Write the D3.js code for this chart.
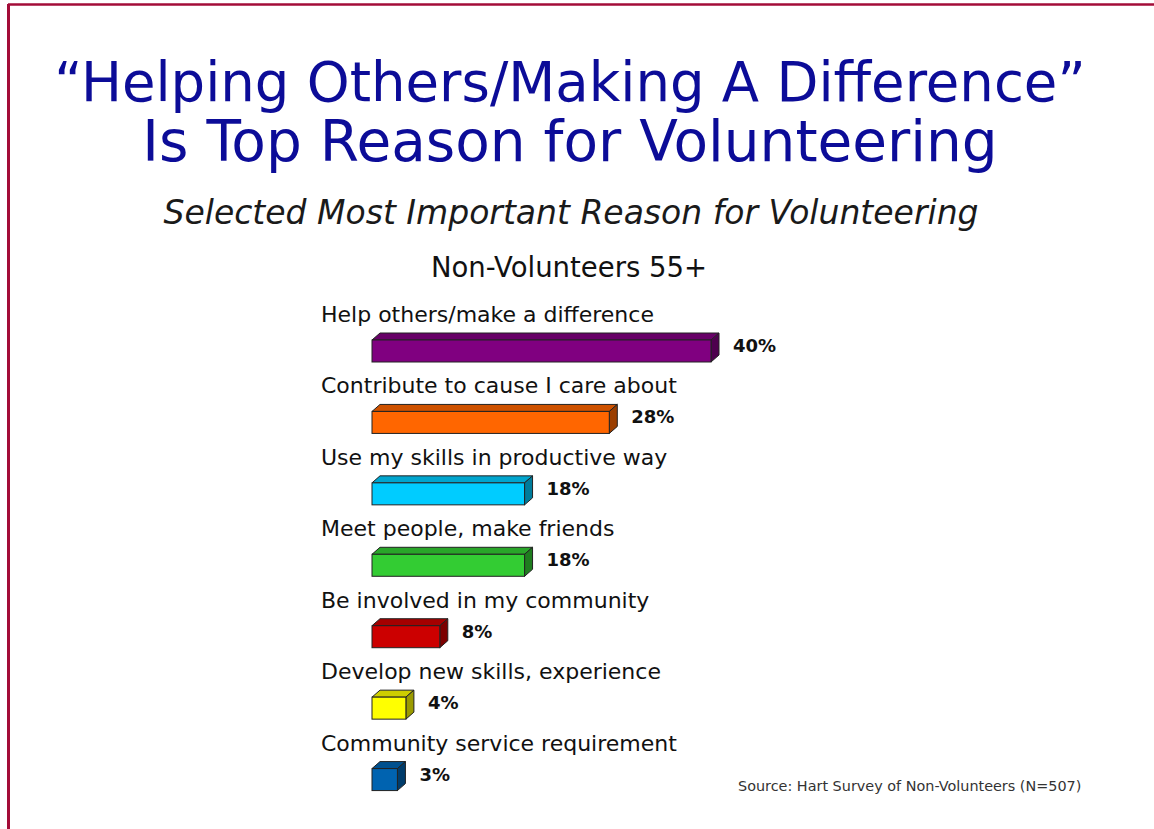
<!DOCTYPE html>
<html>
<head>
<meta charset="utf-8">
<script src="https://cdn.jsdelivr.net/npm/d3@7/dist/d3.min.js"></script>
<style>
  html, body { margin: 0; padding: 0; background: #fff; }
  svg { display: block; }
</style>
</head>
<body>
<svg id="chart" width="1154" height="829"></svg>
<script>
// Reasons for volunteering, share of non-volunteers 55+ (%)
const categories = [
  "Help others/make a difference",
  "Contribute to cause I care about",
  "Use my skills in productive way",
  "Meet people, make friends",
  "Be involved in my community",
  "Develop new skills, experience",
  "Community service requirement"
];
const values = [40, 28, 18, 18, 8, 4, 3];
const colors = ["#800080", "#ff6600", "#00ccff", "#33cc33", "#cc0000", "#ffff00", "#0063b0"];

const titleLines = ["\u201CHelping Others/Making A Difference\u201D", "Is Top Reason for Volunteering"];
const subtitle = "Selected Most Important Reason for Volunteering";
const groupLabel = "Non-Volunteers 55+";
const sourceNote = "Source: Hart Survey of Non-Volunteers (N=507)";

const W = 1154, H = 829;
const svg = d3.select("#chart");
const font = "'DejaVu Sans', Verdana, sans-serif";

// slide frame
svg.append("line").attr("x1", 8).attr("x2", W).attr("y1", 4.5).attr("y2", 4.5)
  .attr("stroke", "#a30c38").attr("stroke-width", 2.5);
svg.append("line").attr("x1", 8.5).attr("x2", 8.5).attr("y1", 4).attr("y2", H)
  .attr("stroke", "#a30c38").attr("stroke-width", 3);

// headline
svg.selectAll("text.title").data(titleLines).join("text")
  .attr("class", "title")
  .attr("x", 570).attr("y", (d, i) => 101 + i * 60)
  .attr("text-anchor", "middle")
  .attr("font-family", font).attr("font-size", (d, i) => i === 0 ? 54.5 : 56.5)
  .attr("fill", "#0c0c98")
  .text(d => d);

svg.append("text")
  .attr("x", 571).attr("y", 224)
  .attr("text-anchor", "middle")
  .attr("font-family", font).attr("font-style", "italic").attr("font-size", 33)
  .attr("fill", "#1a1a1a")
  .text(subtitle);

svg.append("text")
  .attr("x", 569).attr("y", 277)
  .attr("text-anchor", "middle")
  .attr("font-family", font).attr("font-size", 27.5)
  .attr("fill", "#111")
  .text(groupLabel);

// scales
const x = d3.scaleLinear().domain([0, 40]).range([372, 711]);
const band = d3.scaleBand().domain(categories).range([303, 803]).paddingInner(0).paddingOuter(0);
const depthX = 8, depthY = 7, barH = 22;

const rows = svg.selectAll("g.row").data(categories.map((c, i) => ({ c, v: values[i], col: colors[i] })))
  .join("g").attr("class", "row")
  .attr("transform", d => `translate(0,${band(d.c)})`);

rows.append("text")
  .attr("x", 321).attr("y", 19)
  .attr("font-family", font).attr("font-size", 22)
  .attr("fill", "#111")
  .text(d => d.c);

const barTop = 37;
// top face
rows.append("path")
  .attr("d", d => {
    const x0 = x(0), x1 = x(d.v);
    return `M${x0},${barTop} L${x0 + depthX},${barTop - depthY} L${x1 + depthX},${barTop - depthY} L${x1},${barTop} Z`;
  })
  .attr("fill", d => d3.color(d.col).darker(0.6))
  .attr("stroke", "#222").attr("stroke-width", 1).attr("stroke-linejoin", "round");
// side face
rows.append("path")
  .attr("d", d => {
    const x1 = x(d.v);
    return `M${x1},${barTop} L${x1 + depthX},${barTop - depthY} L${x1 + depthX},${barTop + barH - depthY} L${x1},${barTop + barH} Z`;
  })
  .attr("fill", d => d3.color(d.col).darker(1.4))
  .attr("stroke", "#222").attr("stroke-width", 1).attr("stroke-linejoin", "round");
// front face
rows.append("rect")
  .attr("x", x(0)).attr("y", barTop)
  .attr("width", d => x(d.v) - x(0)).attr("height", barH)
  .attr("fill", d => d.col)
  .attr("stroke", "#222").attr("stroke-width", 1);

rows.append("text")
  .attr("x", d => x(d.v) + depthX + 14).attr("y", barTop + 12)
  .attr("font-family", font).attr("font-weight", "bold").attr("font-size", 18)
  .attr("fill", "#111")
  .text(d => d.v + "%");

svg.append("text")
  .attr("x", 738).attr("y", 791)
  .attr("font-family", font).attr("font-size", 14.4)
  .attr("fill", "#333")
  .text(sourceNote);
</script>
</body>
</html>
